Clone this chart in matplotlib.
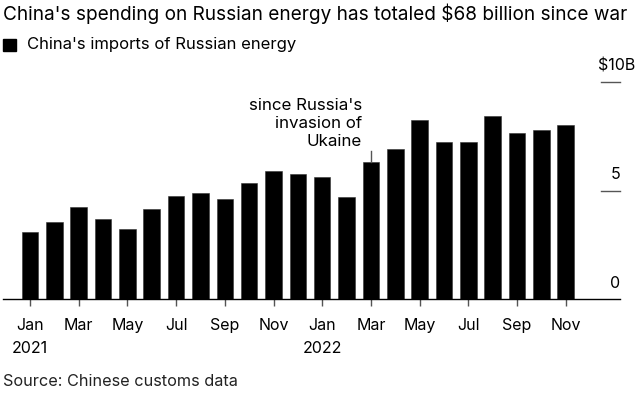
import numpy as np
import matplotlib
matplotlib.use("Agg")
import matplotlib.pyplot as plt
import matplotlib.transforms as mtransforms

plt.rcParams["font.family"] = ["Inter", "DejaVu Sans"]

# monthly imports of Russian energy, $ billion (Jan 2021 - Nov 2022)
months = ["Jan\n2021", "Feb", "Mar", "Apr", "May", "Jun", "Jul", "Aug", "Sep",
          "Oct", "Nov", "Dec", "Jan\n2022", "Feb", "Mar", "Apr", "May", "Jun",
          "Jul", "Aug", "Sep", "Oct", "Nov"]
imports = [3.07, 3.53, 4.22, 3.70, 3.24, 4.15, 4.73, 4.90, 4.61, 5.35, 5.91,
           5.75, 5.64, 4.69, 6.31, 6.90, 8.26, 7.24, 7.24, 8.42, 7.64, 7.80,
           8.02]
y_ticks = [0, 5, 10]
y_labels = ["0", "5", "$10B"]
invasion_idx = 14

fig = plt.figure(figsize=(6.43, 3.96), dpi=100)
ax = fig.add_axes([3 / 643, 97 / 396, 617 / 643, 217 / 396])

x = np.arange(len(imports))
ax.bar(x, imports, width=0.68, color="black", edgecolor="#333333", linewidth=0.4)
ax.set_xlim(-1.11, 24.23)
ax.set_ylim(0, 10)

for s in ["top", "left", "right"]:
    ax.spines[s].set_visible(False)
ax.spines["bottom"].set_color("black")
ax.spines["bottom"].set_linewidth(1.0)

ax.set_xticks(x[::2])
ax.set_xticklabels(months[::2], fontsize=11.5)
ax.tick_params(axis="x", length=5, width=1, color="#555555", pad=9)
for lbl in ax.get_xticklabels():
    lbl.set_linespacing(1.6)
    lbl.set_verticalalignment("top")

# right-hand value axis, Bloomberg style: short tick line with label above
ax.set_yticks([])
trans = mtransforms.blended_transform_factory(ax.transAxes, ax.transData)
for v, lab in zip(y_ticks, y_labels):
    if v > 0:
        ax.plot([0.969, 1.0], [v, v], transform=trans, color="#555555",
                lw=1, clip_on=False)
    dx = 11 if lab.startswith("$") else 0
    off = mtransforms.offset_copy(trans, fig=fig, x=dx, y=6, units="points")
    ax.text(1.0, v, lab, transform=off, ha="right", va="bottom", fontsize=11.5)

# annotation for the invasion
ax.plot([invasion_idx, invasion_idx], [imports[invasion_idx], 6.8],
        color="#555555", lw=1)
ax.text(13.63, 9.25, "since Russia's\ninvasion of\nUkaine", ha="right", va="top",
        fontsize=12.2, linespacing=1.25)

fig.text(3 / 643, 1 - 14 / 396, "China's spending on Russian energy has totaled $68 billion since war",
         fontsize=13.7, va="center", ha="left")
fig.patches.append(plt.Rectangle((3 / 643, 1 - 51 / 396), 13 / 643, 12 / 396,
                                 transform=fig.transFigure, color="black"))
fig.text(27 / 643, 1 - 44 / 396, "China's imports of Russian energy",
         fontsize=12, va="center", ha="left")
fig.text(3 / 643, 1 - 382 / 396, "Source: Chinese customs data",
         fontsize=11.7, va="center", ha="left", color="#222222")

fig.savefig("out.png", dpi=100)
